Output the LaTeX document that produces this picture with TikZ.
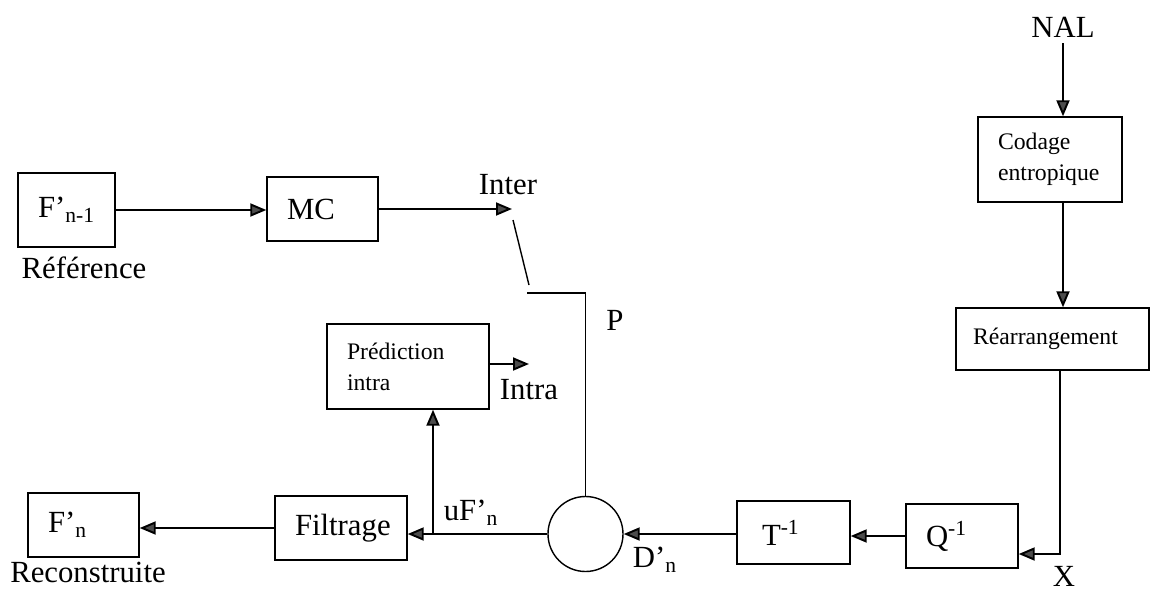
\documentclass[tikz,border=0pt]{standalone}
\usepackage{fontspec}
\setmainfont{Liberation Serif}
\usetikzlibrary{arrows.meta}

\begin{document}
\begin{tikzpicture}[
    blk/.style={draw, line width=0.8pt, align=left, inner xsep=0.4cm, font=\fontsize{17.5}{21}\selectfont},
    sml/.style={font=\fontsize{13.5}{17.5}\selectfont},
    lbl/.style={font=\fontsize{17.5}{21}\selectfont},
    arr/.style={line width=1.1pt, -{Triangle[length=0.32cm, width=0.26cm, fill=black!70]}},
    wire/.style={line width=0.8pt}
]
    \useasboundingbox (0, 0) rectangle (23.06, 11.82);
    % blocs
    \node[blk, text width=1.14cm, minimum height=1.48cm] (fprev) at (1.33, 7.62) {F’\textsubscript{n-1}};
    \node[blk, text width=1.42cm, minimum height=1.28cm] (mc) at (6.45, 7.64) {MC};
    \node[blk, sml, text width=2.08cm, minimum height=1.70cm] (codage) at (21.00, 8.63) {Codage\\entropique};
    \node[blk, sml, inner xsep=0.34cm, text width=3.18cm, minimum height=1.24cm] (rearr) at (21.05, 5.04) {Réarrangement};
    \node[blk, sml, text width=2.44cm, minimum height=1.70cm] (pred) at (8.16, 4.49) {Prédiction\\intra};
    \node[blk, text width=1.84cm, minimum height=1.28cm] (filt) at (6.82, 1.26) {Filtrage};
    \node[blk, text width=1.42cm, minimum height=1.28cm] (frec) at (1.67, 1.32) {F’\textsubscript{n}};
    \node[blk, inner xsep=0.5cm, text width=1.26cm, minimum height=1.26cm] (tinv) at (15.87, 1.17) {T\textsuperscript{-1}};
    \node[blk, text width=1.44cm, minimum height=1.28cm] (qinv) at (19.24, 1.10) {Q\textsuperscript{-1}};
    \node[circle, draw, line width=0.8pt, minimum size=1.5cm, inner sep=0pt] (sum) at (11.71, 1.14) {};

    % textes
    \node[lbl] (nal) at (21.26, 11.28) {NAL};
    \node[lbl] (ref) at (1.68, 6.46) {Référence};
    \node[lbl] (recon) at (1.76, 0.38) {Reconstruite};
    \node[lbl] (inter) at (10.16, 8.12) {Inter};
    \node[lbl] (intra) at (10.58, 4.02) {Intra};
    \node[lbl] (plbl) at (12.30, 5.42) {P};
    \node[lbl] (uflbl) at (9.42, 1.56) {uF’\textsubscript{n}};
    \node[lbl] (dlbl) at (13.10, 0.62) {D’\textsubscript{n}};
    \node[lbl] (xlbl) at (21.28, 0.30) {X};

    \coordinate (intertip) at (10.24, 7.64);
    \coordinate (intratip) at (10.58, 4.54);
    \coordinate (swa) at (10.26, 7.42);
    \coordinate (swb) at (10.58, 6.12);
    \coordinate (swc) at (10.54, 5.96);
    \coordinate (tap) at (8.66, 1.14);
    \coordinate (xc) at (21.20, 0.74);

    % liaisons
    \draw[arr] (fprev.east) -- (fprev.east -| mc.west);
    \draw[arr] (mc.east) -- (intertip);
    \draw[wire] (swa) -- (swb);
    \draw[wire] (swc) -- (swc -| sum.north) -- (sum.north);
    \draw[arr] (nal.south) -- (nal |- codage.north);
    \draw[arr] (codage.south -| nal) -- (rearr.north -| nal);
    \draw[arr] (rearr.south -| xc) -- (xc) -- (xc -| qinv.east);
    \draw[arr] (qinv.west) -- (qinv.west -| tinv.east);
    \draw[arr] (tinv.west |- sum) -- (sum.east);
    \draw[arr] (sum.west) -- (sum.west -| filt.east);
    \draw[arr] (filt.west) -- (filt.west -| frec.east);
    \draw[arr] (tap) -- (tap |- pred.south);
    \draw[arr] (pred.east |- intratip) -- (intratip);
\end{tikzpicture}
\end{document}
